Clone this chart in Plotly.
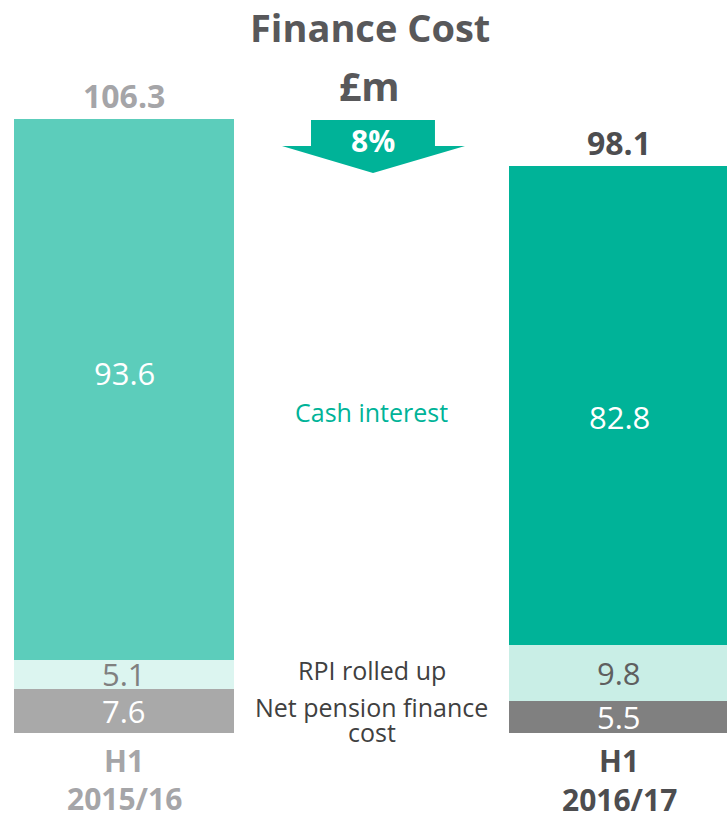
import plotly.graph_objects as go

# Data
periods = ["2015/16", "2016/17"]
period_prefix = ["H1", "H1"]
pension = [7.6, 5.5]
rpi = [5.1, 9.8]
cash = [93.6, 82.8]
totals = [106.3, 98.1]
change_label = "8%"

segment_names = ["Net pension finance<br>cost", "RPI rolled up", "Cash interest"]

# Layout helpers
FONT = "Open Sans"
W, H = 727, 818
PX_PER_UNIT = 5.78
BASE_PX = 733  # pixel row of zero
mid_cat = " "
cats = [periods[0], mid_cat, periods[1]]


def fx(p):
    return p / W


def fy(p):
    return 1 - p / H


left_col = {"pension": "#a9a9a9", "rpi": "#dcf5f0", "cash": "#5ccdbb"}
right_col = {"pension": "#808080", "rpi": "#c9eee6", "cash": "#00b398"}
strong = ["#a5a5a8", "#4d4d4f"]

fig = go.Figure()

for key, vals in [("pension", pension), ("rpi", rpi), ("cash", cash)]:
    fig.add_trace(go.Bar(
        x=periods,
        y=vals,
        marker_color=[left_col[key], right_col[key]],
        marker_line_width=0,
        width=0.889,
        hoverinfo="skip",
        showlegend=False,
    ))

annotations = []

# segment value labels
seg_text_col = {
    "pension": ["white", "white"],
    "rpi": ["#808080", "#5f5f5f"],
    "cash": ["white", "white"],
}
seg_shift = {"pension": [0, 0], "rpi": [0, 0], "cash": [16, -12]}
for i, p in enumerate(periods):
    bottom = 0
    for key, vals in [("pension", pension), ("rpi", rpi), ("cash", cash)]:
        annotations.append(dict(
            x=p, y=bottom + vals[i] / 2, text=f"{vals[i]}",
            showarrow=False, yshift=seg_shift[key][i],
            xanchor="center", yanchor="middle",
            font=dict(family=FONT, size=31, color=seg_text_col[key][i]),
        ))
        bottom += vals[i]

# totals
for i, p in enumerate(periods):
    annotations.append(dict(
        x=p, y=totals[i], text=f"<b>{totals[i]}</b>", showarrow=False,
        xanchor="center", yanchor="middle", yshift=23,
        font=dict(family=FONT, size=32, color=strong[i]),
    ))

# category labels below bars
for i, p in enumerate(periods):
    annotations.append(dict(
        x=p, y=0, text=f"<b>{period_prefix[i]}</b>", showarrow=False,
        xanchor="center", yanchor="middle", yshift=-27,
        font=dict(family=FONT, size=30, color=strong[i]),
    ))
    annotations.append(dict(
        x=p, y=0, text=f"<b>{p}</b>", showarrow=False,
        xanchor="center", yanchor="middle", yshift=-65 - i,
        font=dict(family=FONT, size=30, color=strong[i]),
    ))

# middle segment names, aligned with right bar segments
seg_mid = [pension[1] / 2, pension[1] + rpi[1] / 2, pension[1] + rpi[1] + cash[1] / 2]
seg_name_col = ["#404040", "#404040", "#00b398"]
seg_name_shift = [-2, 3, -7]
LINE = 25
for name, yv, c, sh in zip(segment_names, seg_mid, seg_name_col, seg_name_shift):
    lines = name.split("<br>")
    for k, line in enumerate(lines):
        annotations.append(dict(
            x=mid_cat, y=yv, text=line, showarrow=False,
            xanchor="center", yanchor="middle",
            yshift=sh + LINE * ((len(lines) - 1) / 2 - k),
            font=dict(family=FONT, size=25, color=c),
        ))

# title
annotations.append(dict(
    x=fx(370), y=fy(27), xref="paper", yref="paper", text="<b>Finance Cost</b>",
    xanchor="center", yanchor="middle",
    showarrow=False, font=dict(family=FONT, size=38, color="#58585a"),
))
annotations.append(dict(
    x=fx(370), y=fy(85), xref="paper", yref="paper", text="<b>£m</b>",
    xanchor="center", yanchor="middle",
    showarrow=False, font=dict(family=FONT, size=39, color="#58585a"),
))


# arrow with percent change
def pt(xp, yp):
    return f"{fx(xp):.4f},{fy(yp):.4f}"


arrow_path = ("M " + pt(311, 120) + " L " + pt(435, 120) + " L " + pt(435, 146) +
              " L " + pt(465, 146) + " L " + pt(373, 173) + " L " + pt(282, 146) +
              " L " + pt(311, 146) + " Z")
annotations.append(dict(
    x=fx(373), y=fy(140), xref="paper", yref="paper", text=f"<b>{change_label}</b>",
    xanchor="center", yanchor="middle",
    showarrow=False, font=dict(family=FONT, size=30, color="white"),
))

fig.update_layout(
    width=W,
    height=H,
    margin=dict(l=0, r=0, t=0, b=0),
    barmode="stack",
    bargap=0,
    plot_bgcolor="white",
    paper_bgcolor="white",
    xaxis=dict(
        type="category",
        categoryorder="array",
        categoryarray=cats,
        range=[-124 / 247.5, (727 - 124) / 247.5],
        showticklabels=False,
        showgrid=False,
        zeroline=False,
        showline=False,
        fixedrange=True,
    ),
    yaxis=dict(
        range=[(BASE_PX - H) / PX_PER_UNIT, BASE_PX / PX_PER_UNIT],
        showticklabels=False,
        showgrid=False,
        zeroline=False,
        showline=False,
        fixedrange=True,
    ),
    shapes=[dict(type="path", path=arrow_path, xref="paper", yref="paper",
                 fillcolor="#00b398", line=dict(width=0))],
    annotations=annotations,
)

# drop the default page margin so the figure fills the window
fig.write_html(
    "out.html",
    config={"displayModeBar": False},
    post_script="document.body.style.margin='0';document.body.style.overflow='hidden';",
)
